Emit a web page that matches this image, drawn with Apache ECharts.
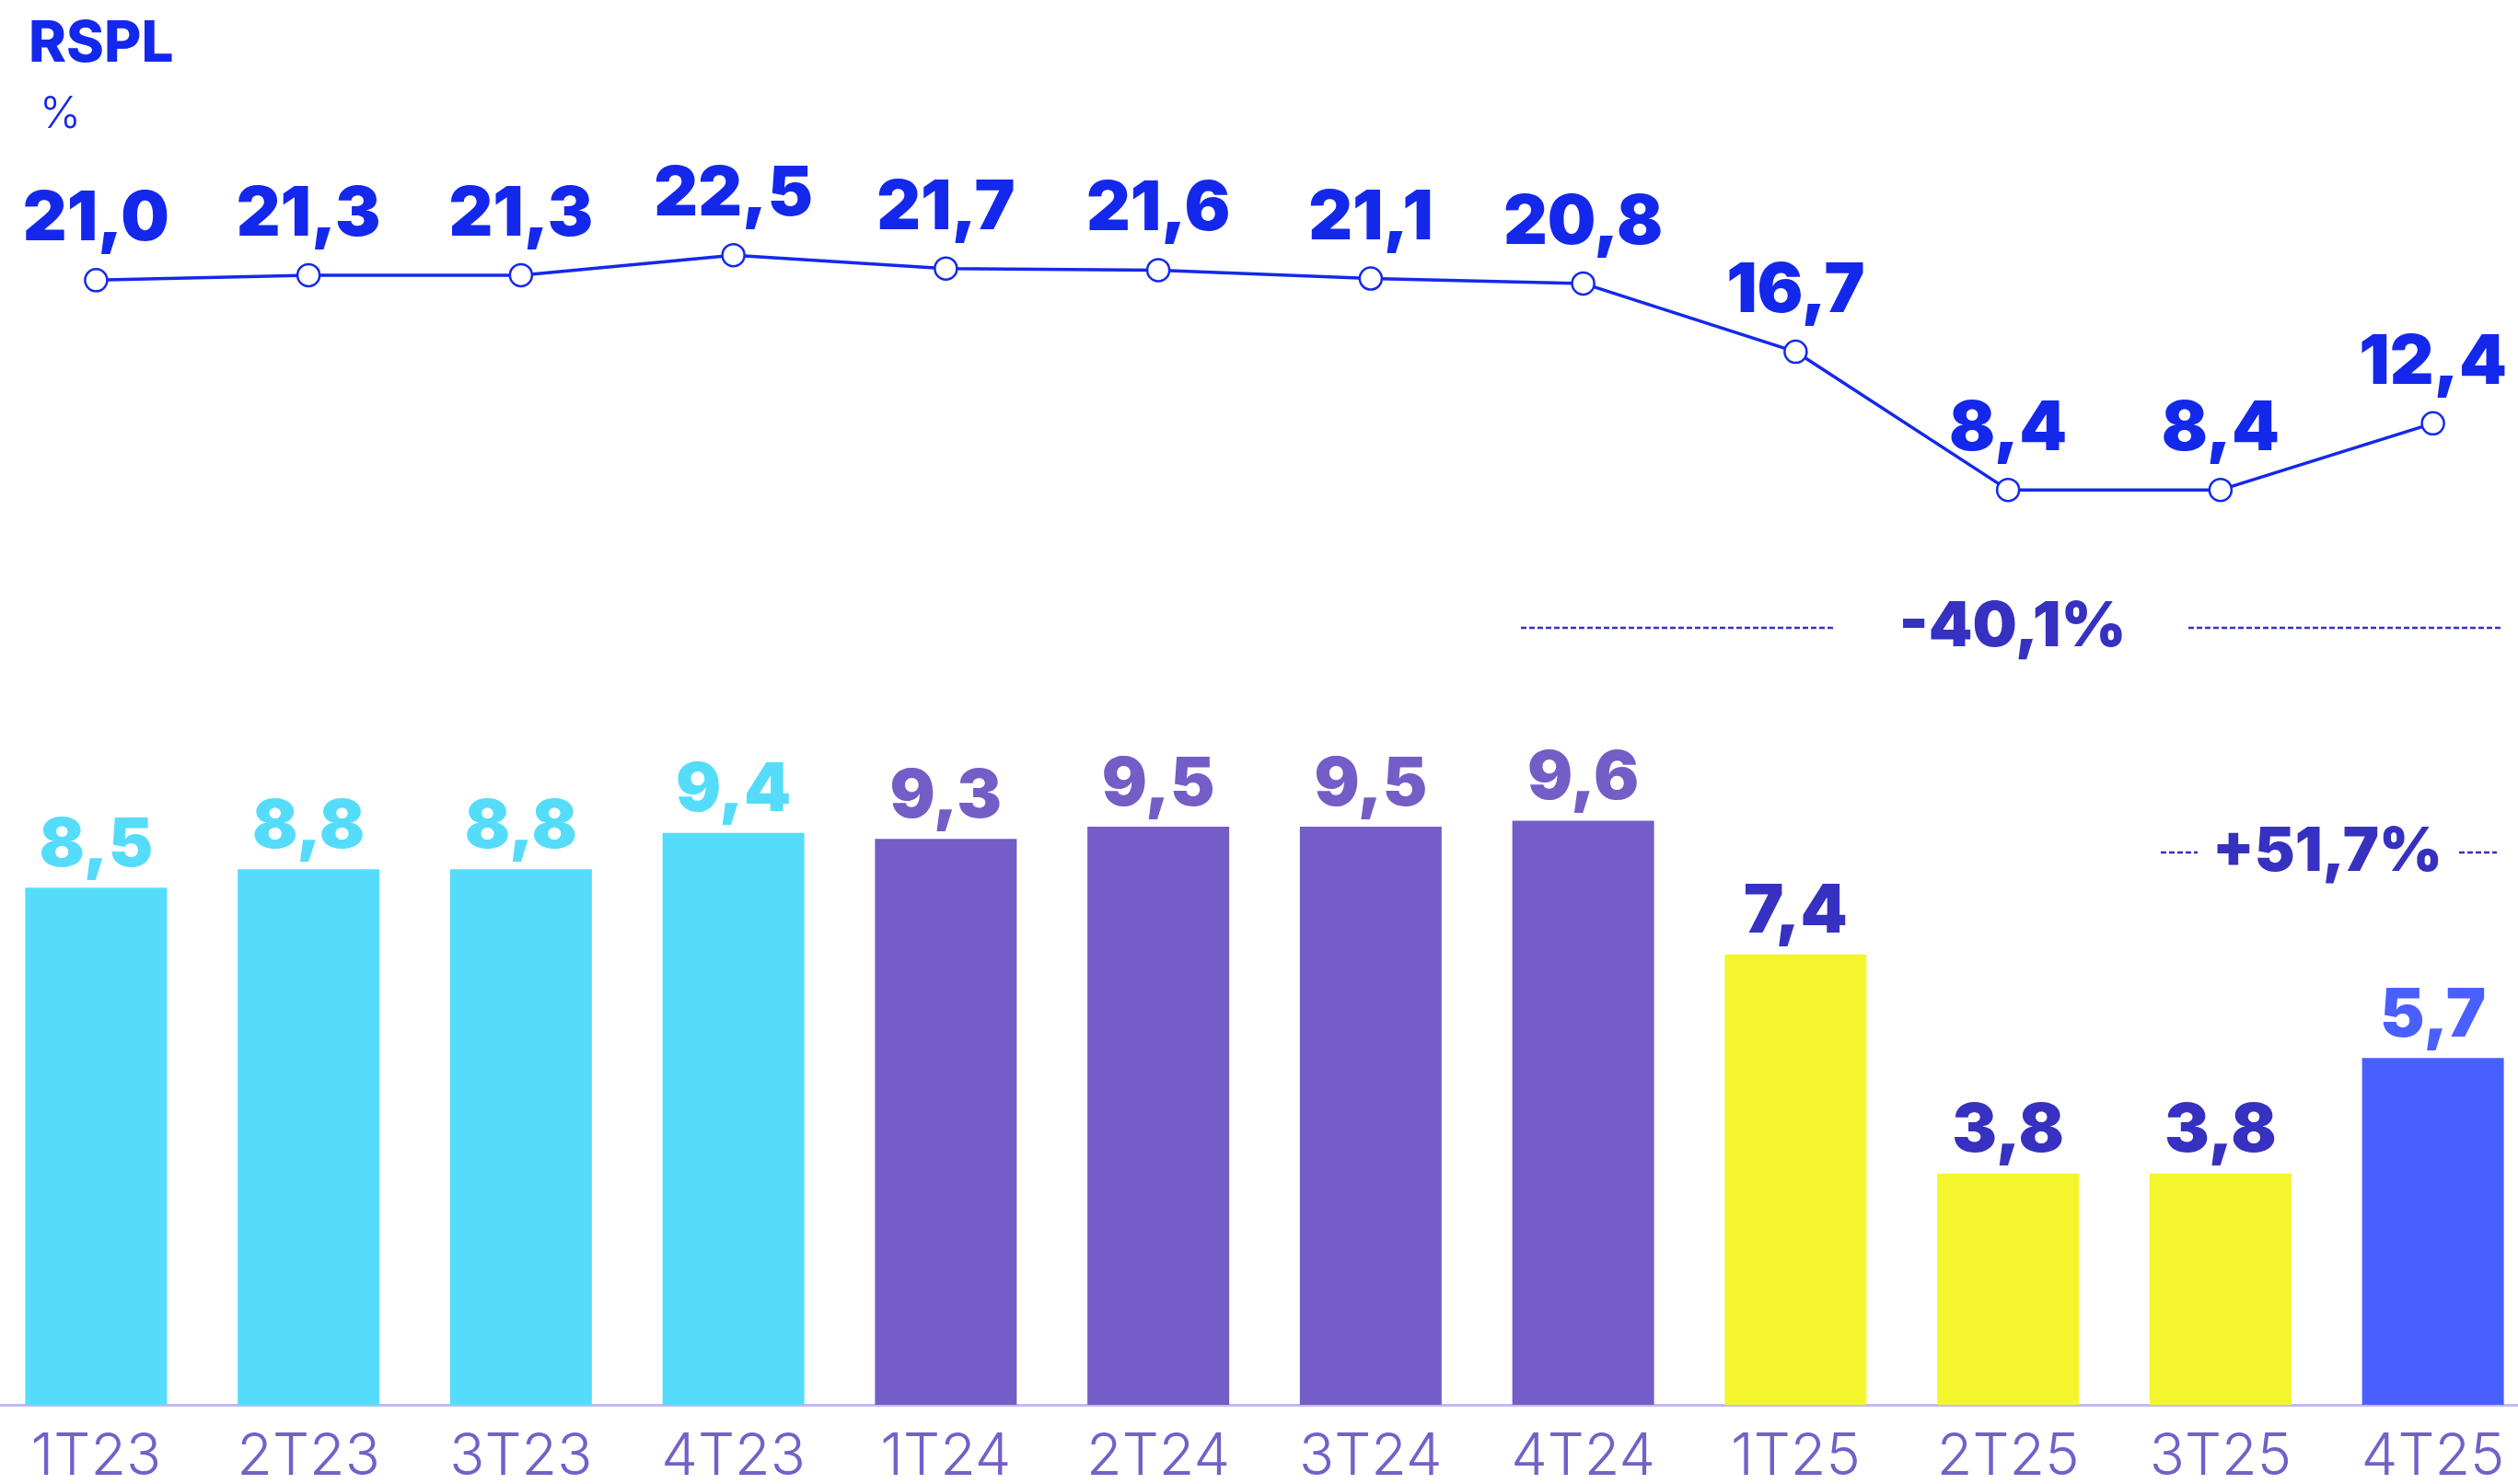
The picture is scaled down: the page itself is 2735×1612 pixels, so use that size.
<!DOCTYPE html>
<html>
<head>
<meta charset="utf-8">
<title>RSPL</title>
<script src="https://cdn.jsdelivr.net/npm/echarts@6/dist/echarts.min.js"></script>
<style>
    html, body { margin: 0; padding: 0; background: #fff; }
    #main { width: 2735px; height: 1612px; }
</style>
</head>
<body>
<div id="main"></div>
<script>
// 数据
var categories = ['1T23', '2T23', '3T23', '4T23', '1T24', '2T24', '3T24', '4T24', '1T25', '2T25', '3T25', '4T25'];
var rsplPct = [21.0, 21.3, 21.3, 22.5, 21.7, 21.6, 21.1, 20.8, 16.7, 8.4, 8.4, 12.4];   // 折线 %
var rsplValue = [8.5, 8.8, 8.8, 9.4, 9.3, 9.5, 9.5, 9.6, 7.4, 3.8, 3.8, 5.7];          // 柱子
var changeYoY = '-40,1%';
var changeQoQ = '+51,7%';

var FONT = 'Inter, "Noto Sans", sans-serif';
var BLUE = '#1428ec';
var INDIGO = '#3631c0';

// 按季度分组的颜色
function barColor(i) {
    var c = categories[i];
    if (c.indexOf('23') > 0) return { bar: '#55dcfb', label: '#55dcfb' };
    if (c.indexOf('24') > 0) return { bar: '#745dc6', label: '#745dc6' };
    if (c === '4T25') return { bar: '#4a5fff', label: '#4a5fff' };
    return { bar: '#f5f52e', label: INDIGO };
}

function fmt(v) {
    return v.toFixed(1).replace('.', ',');
}

var barData = rsplValue.map(function (v, i) {
    var c = barColor(i);
    return {
        value: v,
        itemStyle: { color: c.bar },
        label: { color: c.label }
    };
});

var chart = echarts.init(document.getElementById('main'));
window.onresize = chart.resize;

var option = {
    backgroundColor: '#fff',
    animation: false,
    title: [{
        text: 'RSPL',
        left: 26,
        top: 12,
        textStyle: { fontFamily: FONT, fontSize: 62, fontWeight: 800, color: BLUE }
    }, {
        text: '%',
        left: 38,
        top: 96,
        textStyle: { fontFamily: FONT, fontSize: 48, fontWeight: 300, color: BLUE }
    }],
    grid: [
        // 折线
        { left: -11, right: -23, top: 232, bottom: 928, outerBoundsMode: 'none' },
        // 柱子
        { left: -11, right: -23, top: 204, bottom: 86, outerBoundsMode: 'none' }
    ],
    xAxis: [{
        type: 'category',
        gridIndex: 0,
        data: categories,
        show: false
    }, {
        type: 'category',
        gridIndex: 1,
        data: categories,
        axisLine: { show: true, lineStyle: { color: '#c3b9f5', width: 3 } },
        axisTick: { show: false },
        axisLabel: {
            margin: 26,
            fontFamily: FONT,
            fontSize: 63,
            fontWeight: 300,
            color: '#7460c8'
        }
    }],
    yAxis: [{
        type: 'value',
        gridIndex: 0,
        min: 0,
        max: 25,
        show: false
    }, {
        type: 'value',
        gridIndex: 1,
        min: 0,
        max: 20,
        show: false
    }],
    series: [{
        type: 'bar',
        xAxisIndex: 1,
        yAxisIndex: 1,
        barWidth: 154,
        data: barData,
        label: {
            show: true,
            position: 'top',
            distance: 9,
            fontFamily: FONT,
            fontSize: 73,
            fontWeight: 900,
            formatter: function (p) { return fmt(p.value); }
        }
    }, {
        type: 'line',
        xAxisIndex: 0,
        yAxisIndex: 0,
        data: rsplPct,
        symbol: 'circle',
        symbolSize: 24,
        lineStyle: { color: BLUE, width: 3.5 },
        itemStyle: { color: '#fff', borderColor: BLUE, borderWidth: 2.5 },
        label: {
            show: true,
            position: 'top',
            distance: 15,
            color: BLUE,
            fontFamily: FONT,
            fontSize: 74,
            fontWeight: 900,
            formatter: function (p) { return fmt(p.value); }
        },
        z: 5
    }],
    graphic: [
        // -40,1%
        { type: 'line', shape: { x1: 1652, y1: 682, x2: 1992, y2: 682 },
          style: { stroke: INDIGO, lineWidth: 2.5, lineDash: [6, 3] } },
        { type: 'line', shape: { x1: 2377, y1: 682, x2: 2717, y2: 682 },
          style: { stroke: INDIGO, lineWidth: 2.5, lineDash: [6, 3] } },
        { type: 'text', x: 2186, y: 682,
          style: { text: changeYoY, fill: INDIGO, font: '900 68px ' + FONT, align: 'center', verticalAlign: 'middle' } },
        // +51,7%
        { type: 'line', shape: { x1: 2347, y1: 926, x2: 2387, y2: 926 },
          style: { stroke: INDIGO, lineWidth: 2.5, lineDash: [6, 3] } },
        { type: 'line', shape: { x1: 2671, y1: 926, x2: 2712, y2: 926 },
          style: { stroke: INDIGO, lineWidth: 2.5, lineDash: [6, 3] } },
        { type: 'text', x: 2528, y: 926,
          style: { text: changeQoQ, fill: INDIGO, font: '900 66px ' + FONT, align: 'center', verticalAlign: 'middle' } }
    ]
};

if (option && typeof option === 'object') {
    chart.setOption(option);
}
</script>
</body>
</html>
